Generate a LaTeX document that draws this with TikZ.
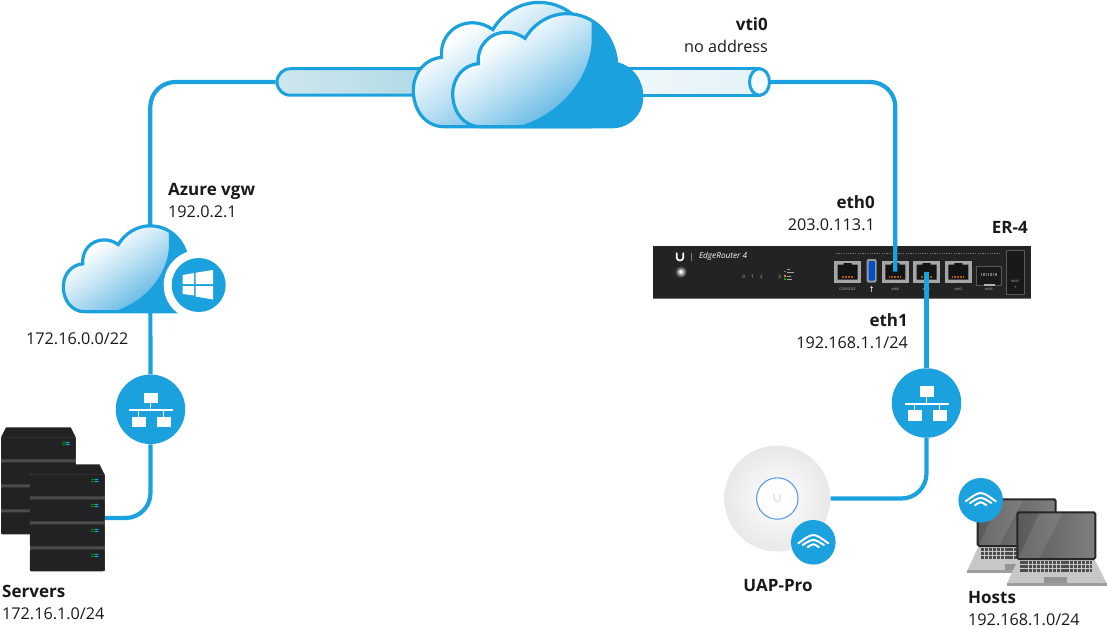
\documentclass[tikz,border=0pt]{standalone}
\usepackage{fontspec}
\setmainfont{Open Sans}
\usetikzlibrary{shapes.geometric,shapes.misc}
\definecolor{azureblue}{HTML}{1BA1DE}
\definecolor{cloudmid}{HTML}{5CB5E3}
\definecolor{cloudpale}{HTML}{BDE1F3}
\definecolor{chassis}{HTML}{232323}
\definecolor{slab}{HTML}{222224}
\definecolor{tubeshade}{HTML}{AED9E6}
\definecolor{tubeedge}{HTML}{CFE6EE}
\definecolor{tubelight}{HTML}{E4F2F7}
\pgfdeclareverticalshading{cloudfade}{100bp}{color(0bp)=(cloudmid); color(34bp)=(cloudmid); color(54bp)=(cloudpale); color(69bp)=(white); color(100bp)=(white)}
\newcommand{\cloudoutline}{(28,0) .. controls (11,0) and (0,-15) .. (0,-33)
	.. controls (0,-49) and (11,-62) .. (25.7,-63)
	.. controls (24,-80) and (36,-94.5) .. (54,-94.5)
	.. controls (61,-94.5) and (67,-92) .. (72.3,-88.3)
	.. controls (81,-103) and (97,-113) .. (114,-113)
	.. controls (141,-113) and (162,-92) .. (164,-63)
	.. controls (178,-60) and (189,-47) .. (189,-30)
	.. controls (189,-12) and (175,0) .. (160,0) -- cycle}
\newcommand{\bt}[1]{{\fontsize{17}{22}\selectfont\bfseries #1}}
\tikzset{
	link/.style      = {draw=azureblue, line width=4.2pt, rounded corners=25pt},
	badge/.style     = {circle, fill=azureblue, inner sep=0pt, minimum size=69.5pt},
	wifibadge/.style = {badge, minimum size=44.6pt},
	hitbox/.style    = {inner sep=0pt},
	lbl/.style       = {inner sep=0pt, align=left, text=black!90,
		font=\fontsize{16.2}{22}\selectfont},
	tiny/.style      = {inner sep=0pt, text=black!25, font=\fontsize{3.6}{4}\selectfont},
	rjframe/.style   = {rectangle, fill=black!35, inner sep=0pt,
		minimum width=26.4pt, minimum height=22pt},
	cloudshape/.pic = {
		\shade[shading=cloudfade, shading angle=35] \cloudoutline;
		\begin{scope}
			\clip \cloudoutline;
			\fill[azureblue] (139,-125) -- (139,-85) .. controls (137,-50) and (110,-14) .. (68,-1)
				-- (68,5) -- (195,5) -- (195,-125) -- cycle;
		\end{scope}
		\draw[azureblue, line width=3.2pt] \cloudoutline;
	},
	switchicon/.pic = {
		\fill[white] (-6.7,-16.7) rectangle (7,-6);
		\fill[white] (-19,7.3) rectangle (-5,18);
		\fill[white] (6,7.3) rectangle (20,18);
		\fill[white] (-21.7,-.3) rectangle (22,1.7);
		\draw[white, line width=1pt] (0,-6) -- (0,0) (-12,0) -- (-12,7.3) (13,0) -- (13,7.3);
	},
	wifiicon/.pic = {
		\draw[white, line width=2pt, line cap=round]
			(-15,1) .. controls (0,-10) .. (15,1)
			(-10.7,2.7) .. controls (0,-4) .. (10.7,2.7)
			(-5.7,5) .. controls (0,1) .. (5.7,5);
	},
	windowsicon/.pic = {
		\fill[white] (-16,-10) -- (-4.5,-12) -- (-4.5,-1) -- (-16,-1) -- cycle;
		\fill[white] (-3,-12.3) -- (14.3,-15) -- (14.3,-1) -- (-3,-1) -- cycle;
		\fill[white] (-16,1) -- (-4.5,1) -- (-4.5,10.5) -- (-16,9) -- cycle;
		\fill[white] (-3,1) -- (14.3,1) -- (14.3,14.5) -- (-3,11.5) -- cycle;
	},
	serverstack/.pic = {
		\fill[slab] (0,10) -- (5,0) -- (69.7,0) -- (74.7,10) -- cycle;
		\fill[black!70] (0,9.5) rectangle (74.7,107);
		\foreach \unity in {0,25,50,75} {
			\fill[slab, rounded corners=1.5pt] (0,10+\unity) rectangle (74.7,32+\unity);
			\fill[green!55!black] (61,14.5+\unity) rectangle (64.5,15.6+\unity)
				(61,16.6+\unity) rectangle (64.5,17.7+\unity);
			\fill[azureblue] (65,14.5+\unity) rectangle (68.5,15.6+\unity)
				(65,16.6+\unity) rectangle (68.5,17.7+\unity);
		}
	},
	laptop/.pic = {
		\fill[black!22] (1,46.7) -- (77,46.7) -- (89.5,71) -- (-10.3,71) -- cycle;
		\fill[black!38] (-10.3,71) -- (89.5,71) -- (89.5,73.5) -- (-10.3,73.5) -- cycle;
		\foreach \rowy in {50.5,54.5,58.5}
			\draw[black!70, line width=2.8pt, dash pattern=on 3.2pt off .9pt] (3,\rowy) -- (75,\rowy);
		\fill[black!42] (27,64.3) rectangle (50,70.3);
		\draw[black!85, line width=2pt, rounded corners=1.5pt, left color=black!65, right color=black!50]
			(0,0) rectangle (78,46.7);
		\fill[white, opacity=.1] (22,1) -- (45,1) -- (22,45.7) -- (1,45.7) -- cycle;
	},
}
\begin{document}
\begin{tikzpicture}[x=1pt,y=-1pt]
	\useasboundingbox (0,0) rectangle (1107,628);

	% nodes
	\node[hitbox, minimum width=20pt, minimum height=84pt] (vgwcloud) at (150.3,267.5) {};
	\node[badge] (swleft) at (150.5,409.3) {};
	\node[badge] (swright) at (926.5,403) {};
	\node[hitbox, minimum width=75pt, minimum height=106.7pt] (srvfront) at (67.5,518) {};
	\node[circle, hitbox, minimum size=106pt, inner color=white, outer color=black!9] (uap) at (777.3,498.5) {};
	\node[rounded rectangle, rounded rectangle east arc=none, draw=azureblue, line width=3pt,
		left color=tubeedge, right color=tubeshade,
		minimum width=160pt, minimum height=26.5pt, inner sep=0pt] (tubeleft) at (357,82) {};
	\node[rectangle, draw=azureblue, line width=3pt, left color=white!50!tubelight, right color=tubelight,
		minimum width=159pt, minimum height=26.5pt, inner sep=0pt] (tuberight) at (679.5,82) {};
	\node[ellipse, draw=azureblue, line width=3pt, fill=cyan!4!white,
		minimum width=20pt, minimum height=26.5pt, inner sep=0pt] (tubeend) at (759.5,82) {};

	% router
	\node[rectangle, fill=chassis, inner sep=0pt, minimum width=378pt, minimum height=51.7pt] (router) at (841.7,271.8) {};
	\draw[black!55, line width=.7pt] (router.south west) -- (router.south east);
	\draw[black!55, line width=.6pt, dash pattern=on 1.2pt off 1.2pt] (836,253.3) -- (1000,253.3);
	\draw[white, line width=1.7pt] (676.7,252.7) -- (676.7,257.5) .. controls (676.7,261.5) and (683.3,261.5) .. (683.3,257.5) -- (683.3,252.7);
	\draw[black!50, line width=.5pt] (691.7,253) -- (691.7,261);
	\node[inner sep=0pt, text=white, font=\fontsize{8.2}{9}\itshape] (routername) at (723,256.5) {EdgeRouter 4};
	\shade[inner color=white, outer color=chassis] (680.7,271.7) circle (6);
	\fill[white] (680.7,271.7) circle (1.8);
	\foreach \ledx/\ledtext in {743.7/0,752.7/1,761.3/2,779.7/3}
		\node[tiny, font=\fontsize{4.5}{5}\selectfont] (led\ledtext) at (\ledx,277.3) {\ledtext};
	\fill[black!50] (783.5,270.8) rectangle (785.7,272.4);
	\fill[orange] (783.5,274.8) rectangle (785.7,276.6);
	\fill[green!70!black] (783.5,278.2) rectangle (785.7,280);
	\foreach \legy/\legw in {268.5/3,271.6/6.5,275.7/4,279/4.5}
		\fill[black!35] (787,\legy) rectangle ++(\legw,.9);

	% ports
	\foreach \portx/\portname in {847.5/CONSOLE,895.3/eth0,926.5/eth1,958.3/eth2} {
		\node[rjframe] (port\portname) at (\portx,271.7) {};
		\fill[black!92] (\portx-10,264.5) -- (\portx-4,264.5) -- (\portx-4,263) -- (\portx+4,263) -- (\portx+4,264.5)
			-- (\portx+10,264.5) -- (\portx+10,279.5) -- (\portx-10,279.5) -- cycle;
		\draw[orange!70!black, line width=1.2pt, dash pattern=on .9pt off .6pt] (\portx-6,277) -- (\portx+6,277);
		\node[tiny] (tag\portname) at (\portx,289) {\portname};
	}
	\fill[black!40, rounded corners=1.5pt] (866.7,259) rectangle (876.7,282.5);
	\fill[blue!60!cyan!80!black, rounded corners=1pt] (868.5,261) rectangle (874.9,280.5);
	\draw[black!25, line width=.6pt] (871.7,285.5) -- (871.7,292) (870,287.5) -- (873.4,287.5);
	\fill[black!90] (976.7,266.7) rectangle (1001.7,285.7);
	\draw[black!65, line width=.5pt] (976.7,266.7) rectangle (1001.7,285.7);
	\draw[black!55, line width=3pt, dash pattern=on 1pt off .7pt] (981,274) -- (997,274);
	\fill[black!30] (984,284) rectangle (995,286);
	\node[tiny] (tageth3) at (989,289) {eth3};
	\draw[black!65, fill=black!90, line width=.6pt] (1006.7,250.7) rectangle (1024,294);
	\node[tiny, font=\fontsize{3}{4}\selectfont] (tagreset) at (1015.3,281.7) {RESET};
	\fill[black!60] (1015.3,286.7) circle (1);

	% connectors
	\draw[link] (tubeleft.west) -| (vgwcloud);
	\draw[link] (vgwcloud) -- (swleft);
	\draw[link] (swleft) |- (srvfront);
	\draw[link] (tubeend.east) -| (porteth0.center);
	\draw[link] (porteth1.center) -- (swright);
	\draw[link] (swright) |- (uap);

	% clouds
	\pic at (413.3,126.7) [scale=1.1] {cloudshape};
	\pic at (452.7,126.7) {cloudshape};
	\pic at (63.3,311.7) [scale=.76] {cloudshape};
	\node[circle, fill=white, inner sep=0pt, minimum size=70pt] (vgwring) at (198.7,285) {};
	\node[badge, minimum size=54pt] (vgwbadge) at (vgwring) {};
	\pic at (vgwbadge) {windowsicon};

	% switches and devices
	\pic at (swleft) {switchicon};
	\pic at (swright) {switchicon};
	\pic at (1,427.3) {serverstack};
	\pic at (srvfront.north west) {serverstack};
	\draw[azureblue!70!blue!70!white, line width=1.1pt, fill=white] (uap) circle (20.7);
	\draw[black!12, line width=1.2pt] (774.3,494) -- (774.3,498) .. controls (774.3,503) and (780.3,503) .. (780.3,498) -- (780.3,494);
	\node[wifibadge] (uapwifi) at (813.3,542.3) {};
	\pic at (uapwifi) {wifiicon};
	\pic at (977.7,499.3) {laptop};
	\pic at (1017.3,512.3) {laptop};
	\node[wifibadge] (hostwifi) at (980.7,500.3) {};
	\pic at (hostwifi) {wifiicon};

	% labels
	\node[lbl, anchor=east, align=right] (vtilabel) at (768,35.5) {\bt{vti0}\\no address};
	\node[lbl, anchor=west] (vgwlabel) at (168,201) {\bt{Azure vgw}\\192.0.2.1};
	\node[lbl, anchor=east, align=right] (ethzerolabel) at (875,213) {\bt{eth0}\\203.0.113.1};
	\node[lbl, anchor=east] (erlabel) at (1028,227) {\bt{ER-4}};
	\node[lbl, anchor=west] (subnetlabel) at (26,339) {172.16.0.0/22};
	\node[lbl, anchor=east, align=right] (ethonelabel) at (908,331) {\bt{eth1}\\192.168.1.1/24};
	\node[lbl, anchor=west] (srvlabel) at (2,602) {\bt{Servers}\\172.16.1.0/24};
	\node[lbl] (uaplabel) at (778,585) {\bt{UAP-Pro}};
	\node[lbl, anchor=west] (hostlabel) at (968,609) {\bt{Hosts}\\192.168.1.0/24};
\end{tikzpicture}
\end{document}
